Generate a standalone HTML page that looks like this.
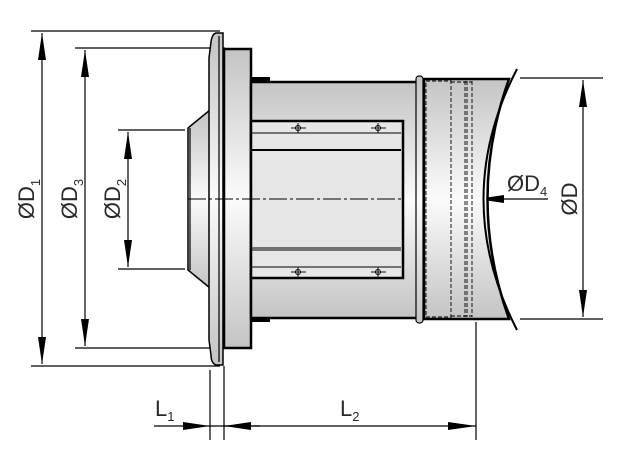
<!DOCTYPE html>
<html><head><meta charset="utf-8"><style>html,body{margin:0;padding:0;background:#fff}svg{display:block}</style></head><body>
<svg width="643" height="475" viewBox="0 0 643 475" xmlns="http://www.w3.org/2000/svg" font-family="'Liberation Sans', Arial, sans-serif">
<defs>
<linearGradient id="gv" x1="0" y1="0" x2="0" y2="1"><stop offset="0" stop-color="#c4c4c4"/><stop offset="0.5" stop-color="#fbfbfb"/><stop offset="1" stop-color="#c4c4c4"/></linearGradient>
</defs>
<g stroke="#000" fill="none" stroke-width="1.2">
<line x1="31" y1="31" x2="220" y2="31"/><line x1="31" y1="366" x2="220" y2="366"/>
<line x1="75" y1="48" x2="225" y2="48"/><line x1="75" y1="348" x2="225" y2="348"/>
<line x1="118" y1="130" x2="185" y2="130"/><line x1="118" y1="269" x2="185" y2="269"/>
<line x1="520" y1="78" x2="603" y2="78"/><line x1="520" y1="319" x2="603" y2="319"/>
<line x1="210" y1="370" x2="210" y2="440"/><line x1="224" y1="366" x2="224" y2="440"/><line x1="476" y1="322" x2="476" y2="440"/>
</g>
<g fill="#000" stroke-width="1.2">
<line x1="42" y1="33" x2="42" y2="364" stroke="#000"/>
<path d="M42,33 l-4,27 h8z M42,364 l-4,-27 h8z"/>
<line x1="85" y1="50" x2="85" y2="346" stroke="#000"/>
<path d="M85,50 l-4,27 h8z M85,346 l-4,-27 h8z"/>
<line x1="128" y1="132" x2="128" y2="267" stroke="#000"/>
<path d="M128,132 l-4,27 h8z M128,267 l-4,-27 h8z"/>
<line x1="583" y1="80" x2="583" y2="317" stroke="#000"/>
<path d="M583,80 l-4,27 h8z M583,317 l-4,-27 h8z"/>
<line x1="154" y1="426" x2="260" y2="426" stroke="#000"/>
<path d="M210,426 l-27,-4 v8z M224,426 l27,-4 v8z"/>
<line x1="224" y1="426" x2="476" y2="426" stroke="#000"/>
<path d="M476,426 l-28,-4 v8z"/>
<line x1="477" y1="199" x2="548" y2="199" stroke="#000"/>
<path d="M477,199 l27,-4 v8z"/>
</g>
<path d="M188,128 L210,110 L210,288 L188,270 Z" fill="url(#gv)" stroke="#000" stroke-width="1.5"/>
<line x1="190" y1="128" x2="190" y2="270" stroke="#000" stroke-width="1.2"/>
<path d="M216,33 L223,33 L223,365 L216,365 Q211,363 211,355 L209,340 L209,58 L211,42 Q212,34 216,33Z" fill="url(#gv)" stroke="#000" stroke-width="1.5"/>
<line x1="219" y1="36" x2="219" y2="362" stroke="#000" stroke-width="1.2"/>
<rect x="224" y="49" width="27" height="299" fill="url(#gv)" stroke="#000" stroke-width="2.5"/>
<rect x="251" y="77" width="19" height="5" fill="#000"/>
<rect x="251" y="317" width="19" height="5" fill="#000"/>
<rect x="251" y="82" width="167" height="236" fill="url(#gv)" stroke="#000" stroke-width="2.5"/>
<rect x="251" y="121" width="152" height="157" fill="#e6e6e6" stroke="#000" stroke-width="2.5"/>
<g stroke="#000">
<line x1="252" y1="133" x2="401" y2="133" stroke-width="1"/>
<line x1="252" y1="150" x2="401" y2="150" stroke-width="2"/>
<line x1="252" y1="248" x2="401" y2="248" stroke-width="1"/>
<line x1="252" y1="250" x2="401" y2="250" stroke-width="1"/>
<line x1="252" y1="267" x2="401" y2="267" stroke-width="1"/>
<g stroke-width="0.9" fill="none">
<line x1="291" y1="128" x2="306" y2="128"/><line x1="298" y1="123" x2="298" y2="133"/><circle cx="298" cy="128" r="2.5"/>
<line x1="371" y1="128" x2="386" y2="128"/><line x1="378" y1="123" x2="378" y2="133"/><circle cx="378" cy="128" r="2.5"/>
<line x1="291" y1="272" x2="306" y2="272"/><line x1="298" y1="267" x2="298" y2="277"/><circle cx="298" cy="272" r="2.5"/>
<line x1="371" y1="272" x2="386" y2="272"/><line x1="378" y1="267" x2="378" y2="277"/><circle cx="378" cy="272" r="2.5"/>
</g>
</g>
<path d="M424,79 L509,79 Q466,199 509,319 L424,319 Z" fill="url(#gv)" stroke="#000" stroke-width="2.5"/>
<path d="M517,69 Q450,199 517,330" fill="none" stroke="#000" stroke-width="2"/>
<g stroke="#000" stroke-width="0.9" stroke-dasharray="4,2" fill="none">
<rect x="426" y="81" width="25" height="236"/>
<line x1="465" y1="81" x2="465" y2="317"/><line x1="467" y1="81" x2="467" y2="317"/><line x1="472" y1="81" x2="472" y2="317"/>
<line x1="451" y1="82" x2="472" y2="82"/><line x1="451" y1="316" x2="472" y2="316"/>
</g>
<rect x="416" y="76" width="7" height="247" rx="3" fill="url(#gv)" stroke="#000" stroke-width="1.2"/>
<line x1="188" y1="199" x2="402" y2="199" stroke="#000" stroke-width="0.9" stroke-dasharray="18,3,3,3"/>
<g fill="#2a2a2a" font-size="22">
<text transform="translate(34,199) rotate(-90)" text-anchor="middle">ØD<tspan font-size="13" dy="6">1</tspan></text>
<text transform="translate(77,199) rotate(-90)" text-anchor="middle">ØD<tspan font-size="13" dy="6">3</tspan></text>
<text transform="translate(120,199) rotate(-90)" text-anchor="middle">ØD<tspan font-size="13" dy="6">2</tspan></text>
<text transform="translate(577,199) rotate(-90)" text-anchor="middle">ØD</text>
<text x="507" y="191">ØD<tspan font-size="13" dy="5">4</tspan></text>
<text x="155" y="416">L<tspan font-size="13" dy="5">1</tspan></text>
<text x="340" y="416">L<tspan font-size="13" dy="5">2</tspan></text>
</g>
</svg>
</body></html>
